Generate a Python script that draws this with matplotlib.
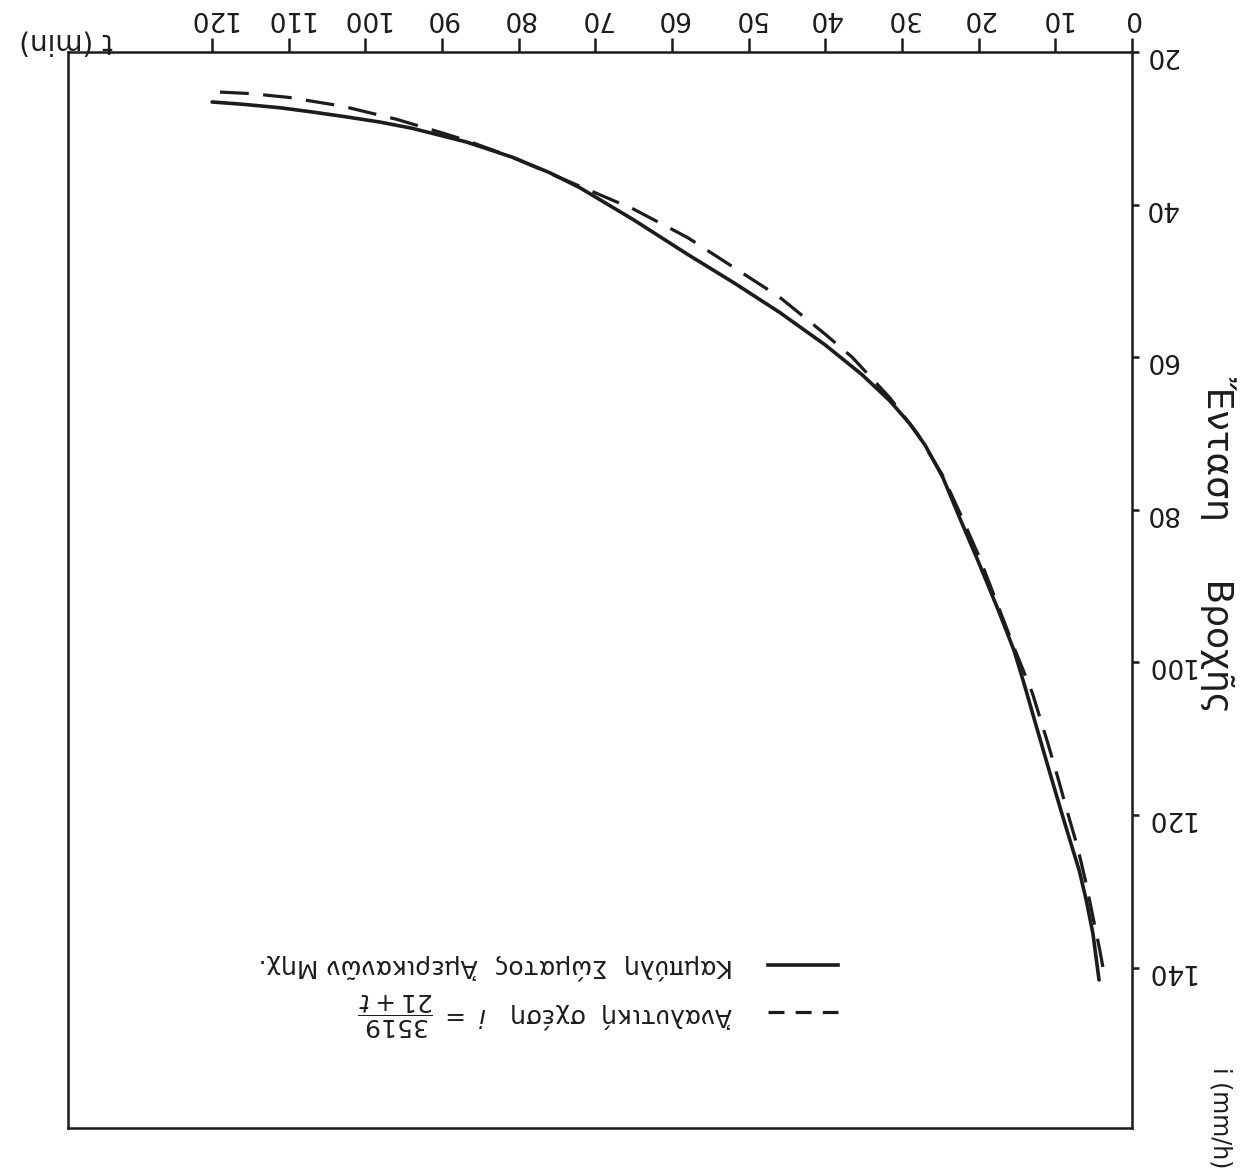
import matplotlib
matplotlib.use("Agg")
import matplotlib.pyplot as plt
from matplotlib.lines import Line2D

# ---- data read from the (upside-down) scanned chart ----
t_ticks = [0, 10, 20, 30, 40, 50, 60, 70, 80, 90, 100, 110, 120]
i_ticks = [20, 40, 60, 80, 100, 120, 140]

# Curve of the US Corps of Engineers (solid)
solid_t = [4.3, 5.1, 6.0, 6.9, 8.0, 9.0, 10.0, 11.2, 12.5, 14.1, 15.4, 17.5, 20,
           22.5, 24.7, 27, 29, 31.6, 35.2, 40, 46, 52, 58, 65, 72, 76, 80.8, 86.8,
           93.9, 98, 102.5, 107, 111.2, 116, 120]
solid_i = [141.6, 135.5, 131.0, 127.2, 123.6, 120.3, 116.9, 112.8, 108.3, 102.7,
           98.4, 93.0, 86.9, 81.0, 75.7, 71.5, 68.7, 65.7, 62.3, 58.4, 54.1, 50.2,
           46.5, 42.0, 37.8, 35.8, 33.8, 31.8, 30.0, 29.2, 28.5, 27.85, 27.3, 26.85,
           26.55]

# Analytic relation i = 3519/(21+t) (dashed)
dash_t = [3.8, 4.2, 5.0, 6.0, 7.1, 8.6, 9.5, 11, 13, 15.4, 17.5, 20, 22.5, 24.7,
          28, 31.6, 36.5, 40, 46, 52, 58, 65, 72, 80.8, 86.8, 90, 96, 103, 110,
          115, 120]
dash_i = [139.9, 137.7, 133.8, 128.9, 124.2, 119.0, 115.7, 110.5, 104.0, 98.0,
          92.5, 86.0, 80.3, 75.5, 70.0, 65.3, 60.0, 57.0, 52.1, 48.2, 44.3, 40.6,
          37.6, 33.8, 31.6, 30.6, 28.8, 27.1, 25.95, 25.45, 25.2]

label_solid = "Καμπύλη  Σώματος  Ἀμερικανῶν Μηχ."
label_dash = r"Ἀναλυτική  σχέση   $i\ =\ \dfrac{3519}{21+t}$"

W, H, DPI = 1241, 1176, 100
fig = plt.figure(figsize=(W / DPI, H / DPI), dpi=DPI, facecolor="white")
ax = fig.add_axes([68 / W, 1 - 1128 / H, (1132 - 68) / W, (1128 - 52) / H])

ink = "#1c1c1c"
ax.plot(solid_t, solid_i, color=ink, lw=2.6, solid_capstyle="round",
        solid_joinstyle="round")
ax.plot(dash_t, dash_i, color=ink, lw=2.3, dashes=(9, 4.5))

ax.set_xlim(138.8, 0)
ax.set_ylim(161, 20)

ax.xaxis.set_ticks_position("top")
ax.yaxis.set_ticks_position("right")
ax.set_xticks(t_ticks)
ax.set_xticklabels([str(v) for v in t_ticks])
ax.set_yticks(i_ticks)
ax.set_yticklabels([str(v) for v in i_ticks])

ax.tick_params(axis="x", direction="out", length=10, width=1.8, pad=5,
               labelsize=19, colors=ink, labelrotation=180)
ax.tick_params(axis="y", direction="out", length=5, width=1.8, pad=4,
               labelsize=19, colors=ink, labelrotation=180)

for sp in ax.spines.values():
    sp.set_linewidth(1.8)
    sp.set_color(ink)

# axis titles (page is upside down)
fig.text(66 / W, 1 - 42 / H, "t (min)", rotation=180, ha="center", va="center",
         fontsize=20, color=ink)
fig.text(1218 / W, 1 - 545 / H, "Ἔνταση     Βροχῆς", rotation=-90, ha="center",
         va="center", fontsize=26, color=ink)
fig.text(1220 / W, 1 - 1118 / H, "i (mm/h)", rotation=-90, ha="center",
         va="center", fontsize=17, color=ink)

h_solid = Line2D([], [], color=ink, lw=2.6)
h_dash = Line2D([], [], color=ink, lw=2.3, dashes=(5, 3.5))
leg = ax.legend([h_solid, h_dash], [label_solid, label_dash],
                loc="center right", bbox_to_anchor=(838 / W, 1 - 996 / H),
                bbox_transform=fig.transFigure, frameon=False, markerfirst=False,
                fontsize=18, handlelength=2.8, handletextpad=1.4,
                labelspacing=0.45, borderpad=0, borderaxespad=0)
for txt in leg.get_texts():
    txt.set_rotation(180)
    txt.set_color(ink)

fig.savefig("out.png", dpi=DPI, facecolor="white")
